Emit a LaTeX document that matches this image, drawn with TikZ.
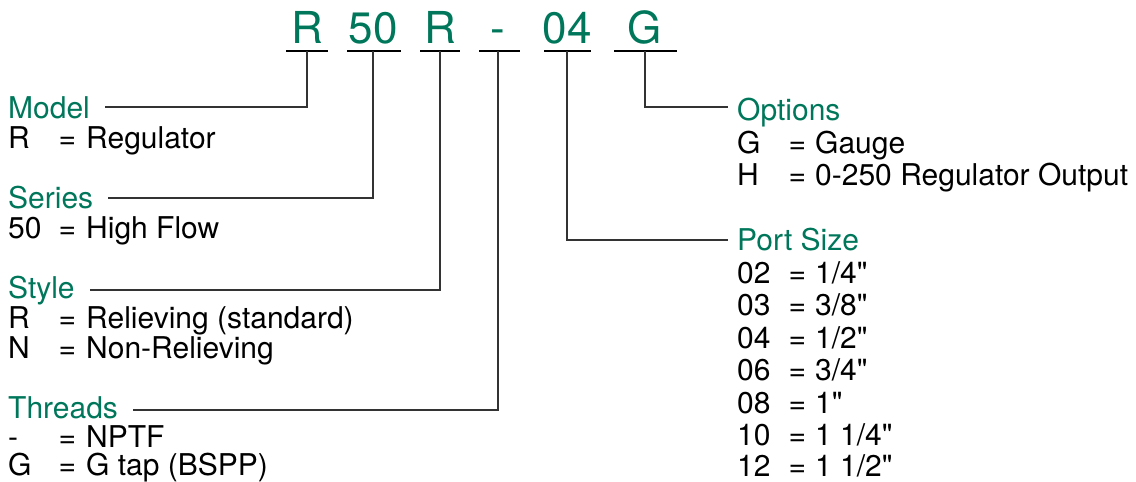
\documentclass[tikz,border=0pt]{standalone}
\usepackage{fontspec}
\newfontfamily\helv{TeX Gyre Heros}
\definecolor{codegreen}{RGB}{0,119,90}
\tikzset{
  code/.style={anchor=base,inner sep=0pt,text=codegreen,font=\helv\fontsize{44}{44}\selectfont},
  head/.style={anchor=base west,inner sep=0pt,text=codegreen,font=\helv\fontsize{30}{30}\selectfont},
  entry/.style={anchor=base west,inner sep=0pt,font=\helv\fontsize{30}{30}\selectfont},
  uline/.style={line width=2.6pt},
  lead/.style={line width=1.2pt,draw=black!80},
}
\begin{document}
\begin{tikzpicture}[x=1pt,y=-1pt]
  \useasboundingbox (0,0) rectangle (1136,482);
  \foreach \t/\n/\l/\r/\c in {R/cm/286/328/307,50/cs/347/401/373,R/cy/420/460/440,-/ct/479/520/498,04/cp/544/591/567,G/co/614/677/645}{
    \node[code] (\n) at (\c,43) {\t};
    \coordinate (\n-u) at (\c,51);
    \draw[uline] (\l,51) -- (\r,51);
  }
  \node[head] (model) at (8,118) {Model};
  \node[head] (series) at (8,208) {Series};
  \node[head] (style) at (8,298) {Style};
  \node[head] (threads) at (8,418) {Threads};
  \node[head] (options) at (737,120) {Options};
  \node[head] (port) at (737,250) {Port Size};
  \foreach \k/\v/\y/\i in {R/Regulator/148/a,50/High Flow/238/b,R/Relieving (standard)/328/c,N/Non-Relieving/358/d,-/NPTF/447/e,G/G tap (BSPP)/475/f}{
    \node[entry] (k\i) at (8,\y) {\k};
    \node[entry] (e\i) at (58.5,\y) {=};
    \node[entry] (v\i) at (86,\y) {\v};
  }
  \foreach \k/\v/\y/\i in {G/Gauge/153/g,H/0-250 Regulator Output/185/h,02/{1/4"}/283/p,03/{3/8"}/315/q,04/{1/2"}/348/r,06/{3/4"}/380/s,08/{1"}/413/t,10/{1 1/4"}/445/u,12/{1 1/2"}/476/v}{
    \node[entry] (k\i) at (737,\y) {\k};
    \node[entry] (e\i) at (788.5,\y) {=};
    \node[entry] (v\i) at (815,\y) {\v};
  }
  \draw[lead] ([shift={(15,-11)}]model.base east) -| (cm-u);
  \draw[lead] ([shift={(15,-10)}]series.base east) -| (cs-u);
  \draw[lead] ([shift={(15,-8)}]style.base east) -| (cy-u);
  \draw[lead] ([shift={(15,-8)}]threads.base east) -| (ct-u);
  \draw[lead] (co-u) |- ([shift={(-9,-13)}]options.base west);
  \draw[lead] (cp-u) |- ([shift={(-9,-10)}]port.base west);
\end{tikzpicture}
\end{document}
